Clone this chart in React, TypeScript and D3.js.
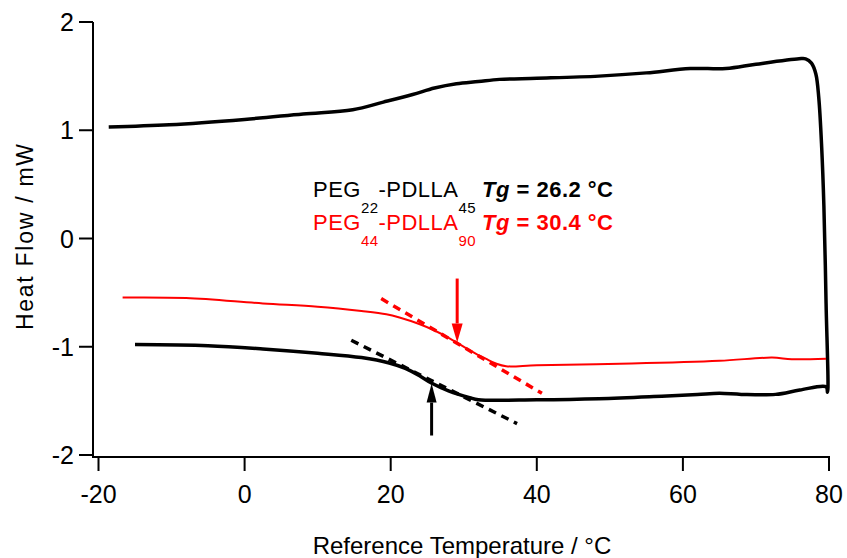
import React from "react";
import * as d3 from "d3";

// PEG22-PDLLA45 trace (heating along the bottom, jump at 80 °C, cooling back along the top)
const blackTemp = [
  -15, -5, 2.5, 10, 16, 19.8, 22, 24, 25.7, 28, 30.8, 32, 40, 48.5, 56, 62, 65, 68, 72.7, 76, 79.6,
  79.8, 79.6, 79.3, 79, 78.6, 78.2, 77.6, 76.8, 75.9, 70, 65.9, 61, 55, 48.5, 40, 34.9, 32, 29, 26,
  23, 19, 14.8, 8, 0, -10.3, -18.6,
];
const blackHeat = [
  -0.98, -0.99, -1.02, -1.06, -1.1, -1.15, -1.2, -1.27, -1.34, -1.41, -1.47, -1.49, -1.49, -1.48,
  -1.46, -1.44, -1.43, -1.44, -1.44, -1.4, -1.37, -1.42, -0.6, 0.3, 0.84, 1.3, 1.52, 1.62, 1.66,
  1.66, 1.61, 1.57, 1.57, 1.53, 1.5, 1.48, 1.47, 1.45, 1.43, 1.39, 1.33, 1.26, 1.19, 1.15, 1.1,
  1.05, 1.03,
];

// PEG44-PDLLA90 trace
const redTemp = [
  -16.7, -8, 2.5, 10, 16, 19.4, 21.2, 23.9, 26, 28, 29, 31, 33, 34.4, 35.8, 40, 53, 65, 72.2, 74.9,
  79.6,
];
const redHeat = [
  -0.545, -0.55, -0.6, -0.63, -0.67, -0.7, -0.73, -0.79, -0.85, -0.92, -0.96, -1.04, -1.11, -1.155,
  -1.18, -1.17, -1.155, -1.13, -1.1, -1.115, -1.11,
];

// tangent lines [temp, heat]
const blackTangent = [
  [14.6, -0.94],
  [37.3, -1.71],
];
const redTangent = [
  [18.7, -0.555],
  [40.7, -1.43],
];

// arrows: temp, start, tip
const blackArrow = [25.6, -1.82, -1.34];
const redArrow = [29.1, -0.37, -0.96];

// legend: [PEG n, PDLLA n, Tg]
const labels = [
  ["22", "45", "26.2", "#000"],
  ["44", "90", "30.4", "#ff0000"],
];

const xTicks = [-20, 0, 20, 40, 60, 80];
const yTicks = [-2, -1, 0, 1, 2];

const FONT = "Liberation Sans, Arial, sans-serif";

export default function App() {
  const x = d3.scaleLinear().domain([-20, 80]).range([98.5, 829]);
  const y = d3.scaleLinear().domain([-2, 2]).range([455, 22]);
  const axisX = 93;
  const axisY = 457;

  const line = d3
    .line<number>()
    .x((_, i) => x(blackTemp[i]))
    .y((_, i) => y(blackHeat[i]))
    .curve(d3.curveCatmullRom.alpha(0.5));
  const redLine = d3
    .line<number>()
    .x((_, i) => x(redTemp[i]))
    .y((_, i) => y(redHeat[i]))
    .curve(d3.curveCatmullRom.alpha(0.5));
  const seg = d3
    .line<number[]>()
    .x((d) => x(d[0]))
    .y((d) => y(d[1]));

  const arrow = (a: number[], color: string, headW: number) => {
    const ax = x(a[0]);
    const y0 = y(a[1]);
    const y1 = y(a[2]);
    const dir = y1 > y0 ? 1 : -1;
    const headL = 19;
    return (
      <g>
        <line x1={ax} y1={y0} x2={ax} y2={y1 - dir * headL} stroke={color} strokeWidth={3} />
        <path
          d={`M${ax},${y1}L${ax - headW / 2},${y1 - dir * headL}L${ax + headW / 2},${y1 - dir * headL}Z`}
          fill={color}
        />
      </g>
    );
  };

  return (
    <svg
      width={847}
      height={558}
      style={{ position: "absolute", left: 0, top: 0, background: "#fff" }}
      fontFamily={FONT}
    >
      {/* axes */}
      <line x1={axisX} y1={y(2)} x2={axisX} y2={axisY + 1} stroke="#000" strokeWidth={2} />
      <line x1={axisX} y1={axisY} x2={x(80) + 1} y2={axisY} stroke="#000" strokeWidth={2} />
      {yTicks.map((t) => (
        <g key={"y" + t}>
          <line x1={axisX - 14} x2={axisX} y1={y(t)} y2={y(t)} stroke="#000" strokeWidth={2} />
          <text x={74} y={y(t) + 9} fontSize={25} textAnchor="end">
            {t}
          </text>
        </g>
      ))}
      {xTicks.map((t) => (
        <g key={"x" + t}>
          <line x1={x(t)} x2={x(t)} y1={axisY} y2={axisY + 14} stroke="#000" strokeWidth={2} />
          <text x={x(t)} y={503} fontSize={25} textAnchor="middle">
            {t}
          </text>
        </g>
      ))}
      <text x={462} y={554} fontSize={24} textAnchor="middle">
        Reference Temperature / °C
      </text>
      <text
        transform="translate(33,237) rotate(-90)"
        fontSize={23}
        textAnchor="middle"
        textLength={186}
        lengthAdjust="spacing"
      >
        Heat Flow / mW
      </text>

      {/* traces */}
      <path
        d={line(blackTemp) ?? ""}
        fill="none"
        stroke="#000"
        strokeWidth={3.5}
        strokeLinejoin="round"
      />
      <path d={redLine(redTemp) ?? ""} fill="none" stroke="#ff0000" strokeWidth={2} />

      {/* tangents */}
      <path d={seg(blackTangent) ?? ""} stroke="#000" strokeWidth={3.5} strokeDasharray="8,6" />
      <path d={seg(redTangent) ?? ""} stroke="#ff0000" strokeWidth={3.5} strokeDasharray="8,6" />

      {arrow(blackArrow, "#000", 10)}
      {arrow(redArrow, "#ff0000", 11)}

      {/* labels */}
      {labels.map((l, i) => {
        const base = 197 + i * 33;
        return (
          <text
            key={l[0]}
            x={313}
            y={base}
            fontSize={22}
            fill={l[3]}
            textLength={300}
            lengthAdjust="spacing"
          >
            <tspan y={base}>PEG</tspan>
            <tspan y={base + 16} fontSize={15}>
              {l[0]}
            </tspan>
            <tspan y={base}>-PDLLA</tspan>
            <tspan y={base + 16} fontSize={15}>
              {l[1]}
            </tspan>
            <tspan y={base} dx={6} fontWeight="bold" fontStyle="italic">
              Tg
            </tspan>
            <tspan y={base} fontWeight="bold">
              {" = " + l[2] + " °C"}
            </tspan>
          </text>
        );
      })}
    </svg>
  );
}
